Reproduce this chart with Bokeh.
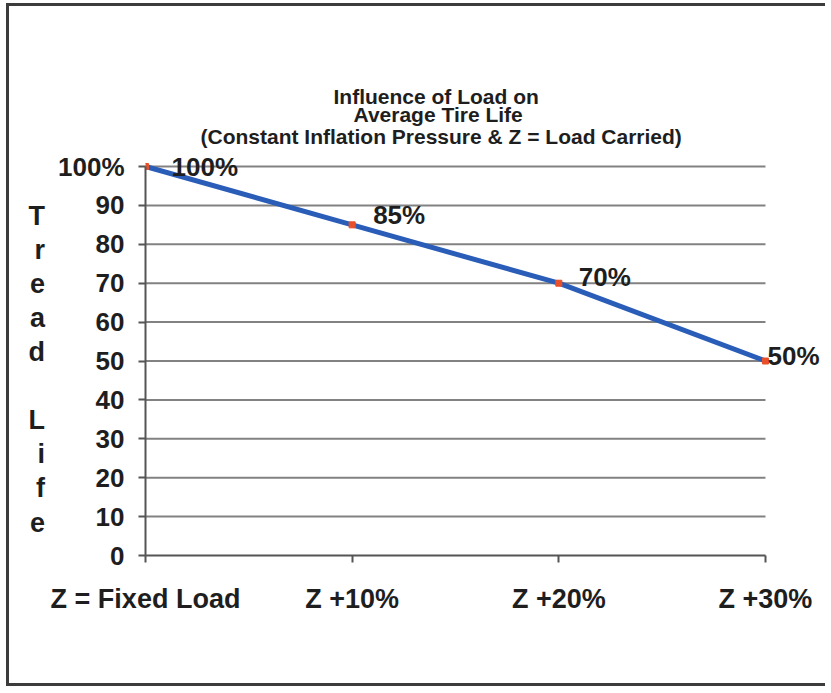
from bokeh.plotting import figure
from bokeh.models import FixedTicker, Range1d, ColumnDataSource, Title
from bokeh.core.properties import value
from bokeh.embed import file_html
from bokeh.resources import INLINE

# ---- data ----
categories = ["Z = Fixed Load", "Z +10%", "Z +20%", "Z +30%"]
tread_life = [100, 85, 70, 50]
point_labels = ["100%", "85%", "70%", "50%"]
y_ticks = [0, 10, 20, 30, 40, 50, 60, 70, 80, 90, 100]
y_tick_labels = ["0", "10", "20", "30", "40", "50", "60", "70", "80", "90", "100%"]
title_lines = ["Influence of Load on", "Average Tire Life",
               "(Constant Inflation Pressure & Z = Load Carried)"]
y_label_letters = ["", "T", "r", "e", "a", "d", "", "L", "i", "f", "e"]

# ---- styling (pixel offsets of the point labels) ----
label_dx = [26, 21, 20, 2]
label_dy = [0, -10, -6, -5]

FONT = "Liberation Sans"
TXT = "#1e1e1e"
xs = list(range(len(categories)))
x_last = len(categories) - 1

p = figure(width=819, height=683, output_backend="svg", toolbar_location=None,
           title=None,
           x_range=Range1d(0, 3.305), y_range=Range1d(0, 104.63),
           min_border_left=136, min_border_right=0, min_border_top=142,
           min_border_bottom=134)
p.styles = {"border-top": "3px solid #3c3c3c", "border-left": "3px solid #3c3c3c",
            "border-bottom": "3px solid #3c3c3c",
            "margin-left": "6px", "margin-top": "3px"}
p.outline_line_color = None
p.background_fill_color = "white"
p.border_fill_color = "white"

# grid (drawn as segments so they stop at the last category)
p.xgrid.grid_line_color = None
p.ygrid.grid_line_color = None
grid_src = ColumnDataSource(dict(y=y_ticks[1:], x0=[0] * (len(y_ticks) - 1),
                                 x1=[x_last] * (len(y_ticks) - 1)))
p.segment(x0="x0", y0="y", x1="x1", y1="y", source=grid_src,
          line_color="#828282", line_width=2)

# axes
p.yaxis.ticker = FixedTicker(ticks=y_ticks)
p.yaxis.major_label_overrides = {t: l for t, l in zip(y_ticks, y_tick_labels)}
p.yaxis.bounds = (y_ticks[0], y_ticks[-1])
p.xaxis.ticker = FixedTicker(ticks=xs)
p.xaxis.major_label_overrides = {i: c for i, c in zip(xs, categories)}
p.xaxis.bounds = (0, x_last)
for ax in (p.xaxis[0], p.yaxis[0]):
    ax.axis_line_color = "#555555"
    ax.axis_line_width = 2
    ax.major_tick_line_color = "#555555"
    ax.major_tick_line_width = 2
    ax.major_tick_in = 0
    ax.major_tick_out = 7
    ax.minor_tick_line_color = None
    ax.major_label_text_font = FONT
    ax.major_label_text_font_style = "bold"
    ax.major_label_text_color = TXT
p.yaxis.major_label_text_font_size = "26px"
p.xaxis.major_label_text_font_size = "27px"
p.yaxis.major_label_standoff = 14
p.xaxis.major_label_standoff = 21

# stacked y-axis label
p.yaxis.axis_label = "\n".join(y_label_letters)
p.yaxis.axis_label_orientation = "horizontal"
p.yaxis.axis_label_text_font = FONT
p.yaxis.axis_label_text_font_style = "bold"
p.yaxis.axis_label_text_font_size = "27px"
p.yaxis.axis_label_text_color = TXT
p.yaxis.axis_label_text_line_height = 1.137
p.yaxis.axis_label_standoff = 10

# title: three lines, stacked outward from the plot
title_offsets = [188, 208, 55]
title_standoffs = [-7, -7, 1]
for line, off, so in reversed(list(zip(title_lines, title_offsets, title_standoffs))):
    p.add_layout(Title(text=line, align="left", offset=off, standoff=so,
                       text_font=FONT, text_font_style="bold",
                       text_font_size="21px", text_color=TXT), "above")

# series
src = ColumnDataSource(dict(x=xs, y=tread_life, lab=point_labels,
                            dx=label_dx, dy=label_dy))
p.line("x", "y", source=src, line_color="#2a5db8", line_width=5)
p.scatter("x", "y", source=src, marker="square", size=6,
          fill_color="#e8502a", line_color="#e8502a")
p.text("x", "y", text="lab", source=src, x_offset="dx", y_offset="dy",
       text_font=value(FONT), text_font_style="bold", text_font_size="26px",
       text_color=TXT, text_baseline="middle", text_align="left")

open("out.html", "w").write(file_html(p, INLINE))
